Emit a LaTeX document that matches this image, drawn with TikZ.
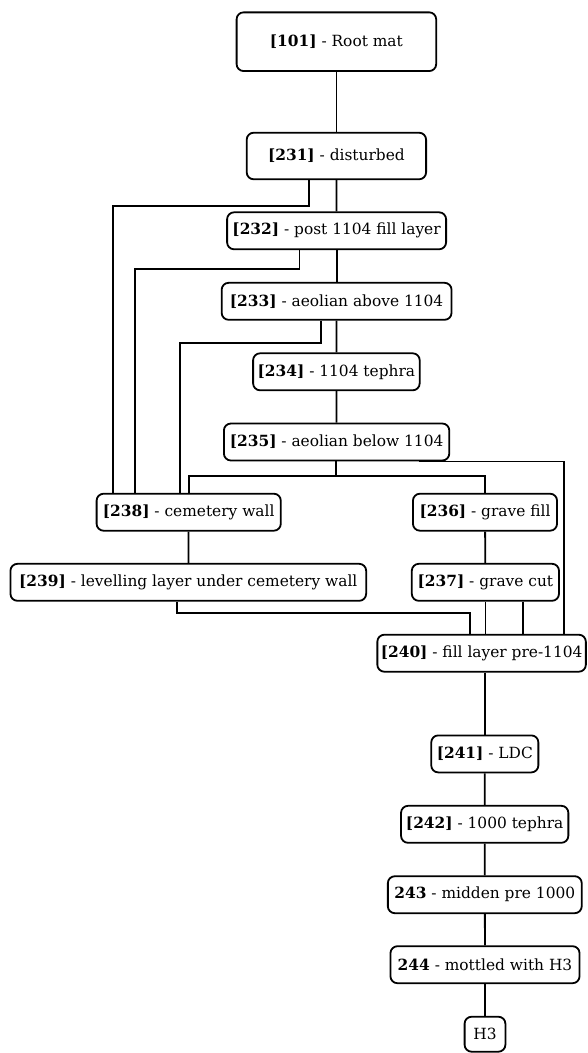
\documentclass[tikz,border=0pt]{standalone}
\usepackage{fontspec}
\setmainfont{DejaVu Serif}
\usetikzlibrary{positioning}

\tikzset{
    unit/.style={draw, rounded corners=7pt, line width=1.8pt, align=center,
        inner xsep=0pt, minimum height=37pt,
        font=\fontsize{15.4}{18}\selectfont},
    link/.style={line width=1.8pt},
}
\newcommand{\ctx}[1]{\textbf{[#1]}}

\begin{document}
\begin{tikzpicture}[x=1pt, y=-1pt]
    \useasboundingbox (0,0) rectangle (587,1053);

    % upper column
    \node[unit, minimum width=199.6pt, minimum height=58.7pt] (u101) at (336.4,41.7) {\ctx{101} - Root mat};
    \node[unit, minimum width=179.4pt, minimum height=46.6pt] (u231) at (336.4,156) {\ctx{231} - disturbed};
    \node[unit, minimum width=219pt] (u232) at (336.6,230.8) {\ctx{232} - post 1104 fill layer};
    \node[unit, minimum width=229.9pt] (u233) at (336.6,301.3) {\ctx{233} - aeolian above 1104};
    \node[unit, minimum width=166.6pt] (u234) at (336.4,371.8) {\ctx{234} - 1104 tephra};
    \node[unit, minimum width=225.4pt] (u235) at (336.6,442) {\ctx{235} - aeolian below 1104};

    % two branches
    \node[unit, minimum width=184.2pt] (u238) at (188.7,512.2) {\ctx{238} - cemetery wall};
    \node[unit, minimum width=144.1pt] (u236) at (485,512.2) {\ctx{236} - grave fill};
    \node[unit, minimum width=355.7pt] (u239) at (188.3,582.3) {\ctx{239} - levelling layer under cemetery wall};
    \node[unit, minimum width=147.2pt] (u237) at (485.4,582.3) {\ctx{237} - grave cut};

    % lower column
    \node[unit, minimum width=208.5pt] (u240) at (481.6,653.2) {\ctx{240} - fill layer pre-1104};
    \node[unit, minimum width=107.1pt] (u241) at (484.8,753.9) {\ctx{241} - LDC};
    \node[unit, minimum width=167.3pt] (u242) at (484.7,824.3) {\ctx{242} - 1000 tephra};
    \node[unit, minimum width=193.9pt] (u243) at (484.8,894.7) {\textbf{243} - midden pre 1000};
    \node[unit, minimum width=189.1pt] (u244) at (485,964.7) {\textbf{244} - mottled with H3};
    \node[unit, minimum width=40.8pt, minimum height=35pt] (h3) at (485,1034.2) {H3};

    % bends
    \coordinate (b231) at (113.1,205.7);
    \coordinate (b232) at (134.8,269);
    \coordinate (b233) at (179.7,342.7);
    \coordinate (b235) at (336.3,476);
    \coordinate (b239) at (470.3,613.3);

    \draw[link] (u101) -- (u231);
    \draw[link] (u231) -- (u232);
    \draw[link] ([xshift=-27.5pt]u231.south) |- (b231) -- (b231 |- u238.north);
    \draw[link] (u232) -- (u233);
    \draw[link] ([xshift=-37.1pt]u232.south) |- (b232) -- (b232 |- u238.north);
    \draw[link] (u233) -- (u234);
    \draw[link] ([xshift=-15.4pt]u233.south) |- (b233) -- (b233 |- u238.north);
    \draw[link] (u234) -- (u235);
    \draw[link] (u235.south -| b235) -- (b235) -| (u238.north);
    \draw[link] (b235) -| (u236.north);
    \draw[link] ([xshift=82pt]u235.south) -- ++(145pt,0) coordinate (b235r) -- (b235r |- u240.north);
    \draw[link] (u238) -- (u239);
    \draw[link] (u236) -- (u237);
    \draw[link] ([xshift=-11.2pt]u239.south) |- (b239) -- (b239 |- u240.north);
    \draw[link] (u237.south) -- (u237.south |- u240.north);
    \draw[link] ([xshift=37.6pt]u237.south) -- ([xshift=37.6pt]u237.south |- u240.north);
    \draw[link] (u240.south -| u241) -- (u241);
    \draw[link] (u241) -- (u242);
    \draw[link] (u242) -- (u243);
    \draw[link] (u243) -- (u244);
    \draw[link] (u244) -- (h3);
\end{tikzpicture}
\end{document}
